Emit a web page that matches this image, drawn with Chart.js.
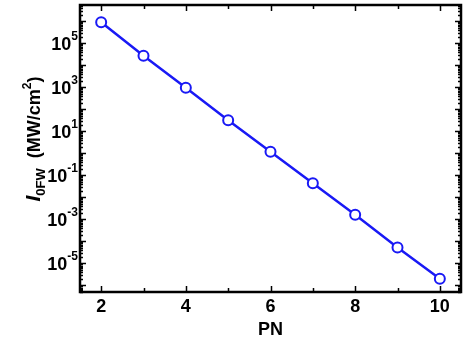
<!DOCTYPE html>
<html>
<head>
<meta charset="utf-8">
<script src="https://cdn.jsdelivr.net/npm/chart.js@4.4.1/dist/chart.umd.min.js"></script>
<style>
  html, body { margin: 0; padding: 0; background: #fff; }
  #wrap { width: 464px; height: 343px; }
</style>
</head>
<body>
<div id="wrap"><canvas id="c" width="464" height="343"></canvas></div>
<script>
// Peak intensity of the fundamental wave versus pulse number
const pn = [2, 3, 4, 5, 6, 7, 8, 9, 10];
const intensity = [9e5, 2.7e4, 9.6e2, 32, 1.17, 0.044, 1.6e-3, 5.2e-5, 2.0e-6];
const xTicks = [2, 4, 6, 8, 10];
const yExponents = [5, 3, 1, -1, -3, -5];

const FONT = '"Liberation Sans", Arial, Helvetica, sans-serif';
const BLUE = 'rgb(25,25,245)';

// Frame, inward ticks and all axis text
const axisPlugin = {
  id: 'axisDecor',
  afterDraw(chart) {
    const ctx = chart.ctx;
    const a = chart.chartArea;
    const xs = chart.scales.x, ys = chart.scales.y;
    ctx.save();
    ctx.strokeStyle = '#000';
    ctx.lineWidth = 1.5;
    ctx.beginPath();
    // x ticks: every integer, even ones longer
    for (let v = 2; v <= 10; v++) {
      const px = Math.round(xs.getPixelForValue(v)) + 0.5;
      const len = (v % 2 === 0) ? 6 : 4;
      ctx.moveTo(px, a.bottom); ctx.lineTo(px, a.bottom - len);
      ctx.moveTo(px, a.top); ctx.lineTo(px, a.top + len);
    }
    // y ticks: decades and 2..9 minors
    const lo = Math.floor(Math.log10(ys.min)), hi = Math.ceil(Math.log10(ys.max));
    for (let e = lo; e <= hi; e++) {
      for (let m = 1; m <= 9; m++) {
        const v = m * Math.pow(10, e);
        if (v < ys.min || v > ys.max) continue;
        const py = Math.round(ys.getPixelForValue(v)) + 0.5;
        const len = (m === 1) ? 6 : 3;
        ctx.moveTo(a.left, py); ctx.lineTo(a.left + len, py);
        ctx.moveTo(a.right, py); ctx.lineTo(a.right - len, py);
      }
    }
    ctx.stroke();
    // frame
    ctx.lineWidth = 2.5;
    ctx.strokeRect(a.left, a.top, a.right - a.left, a.bottom - a.top);

    ctx.fillStyle = '#000';
    // x tick labels
    ctx.font = 'bold 18px ' + FONT;
    ctx.textAlign = 'center';
    ctx.textBaseline = 'alphabetic';
    xTicks.forEach(v => {
      ctx.fillText(String(v), xs.getPixelForValue(v), 312);
    });
    // x title
    ctx.font = 'bold 18px ' + FONT;
    ctx.fillText('PN', (a.left + a.right) / 2, 335);

    // y tick labels: 10 with superscript exponent
    ctx.textAlign = 'left';
    yExponents.forEach(e => {
      const py = ys.getPixelForValue(Math.pow(10, e));
      const exp = String(e);
      ctx.font = 'bold 12px ' + FONT;
      const we = ctx.measureText(exp).width;
      ctx.font = 'bold 18px ' + FONT;
      const wb = ctx.measureText('10').width;
      const right = a.left - 2;
      const x0 = right - we - wb;
      ctx.fillText('10', x0, py + 7);
      ctx.font = 'bold 12px ' + FONT;
      ctx.fillText(exp, x0 + wb, py - 3);
    });

    // y title: I_0FW (MW/cm^2), rotated
    const parts = [
      { t: 'I', f: 'italic bold 21px ' + FONT, dy: 0 },
      { t: '0FW', f: 'bold 13px ' + FONT, dy: 5 },
      { t: '  (MW/cm', f: 'bold 18px ' + FONT, dy: 0 },
      { t: '2', f: 'bold 12px ' + FONT, dy: -9 },
      { t: ')', f: 'bold 18px ' + FONT, dy: 0 }
    ];
    let total = 0;
    parts.forEach(p => { ctx.font = p.f; p.w = ctx.measureText(p.t).width; total += p.w; });
    ctx.translate(40, 139);
    ctx.rotate(-Math.PI / 2);
    let cx = -total / 2;
    parts.forEach(p => {
      ctx.font = p.f;
      ctx.fillText(p.t, cx, p.dy);
      cx += p.w;
    });
    ctx.restore();
  }
};

const points = pn.map((x, i) => ({ x: x, y: intensity[i] }));

new Chart(document.getElementById('c'), {
  type: 'line',
  data: {
    datasets: [{
      data: points,
      borderColor: BLUE,
      borderWidth: 2.5,
      pointRadius: 5,
      pointBorderWidth: 2,
      pointBackgroundColor: '#fff',
      pointBorderColor: BLUE,
      tension: 0
    }]
  },
  options: {
    responsive: false,
    animation: false,
    devicePixelRatio: 1,
    layout: { autoPadding: false, padding: { left: 80, top: 5, right: 3, bottom: 51 } },
    plugins: { legend: { display: false }, tooltip: { enabled: false } },
    scales: {
      x: {
        type: 'linear', min: 1.5, max: 10.5, display: false
      },
      y: {
        type: 'logarithmic', min: 5e-7, max: 5.5e6, display: false
      }
    }
  },
  plugins: [axisPlugin]
});
</script>
</body>
</html>
